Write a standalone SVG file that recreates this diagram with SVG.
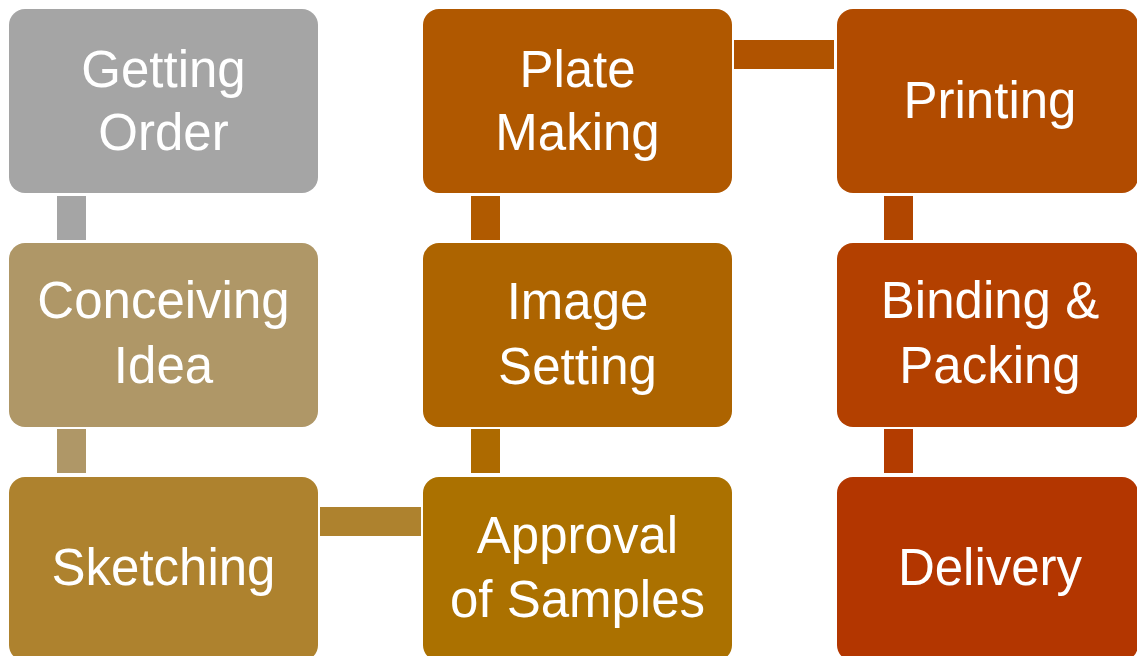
<svg xmlns="http://www.w3.org/2000/svg" width="1137" height="656" viewBox="0 0 1137 656">
<style>
.box{stroke:none}
.t{font-family:"Liberation Sans",Arial,sans-serif;font-size:51px;fill:#ffffff;text-anchor:middle}
</style>
<rect width="1137" height="656" fill="#ffffff"/>
<g id="connectors">
<rect x="57" y="196" width="29" height="44" fill="#A5A5A5"/>
<rect x="57" y="429" width="29" height="44" fill="#AF9767"/>
<rect x="320" y="507" width="101" height="29" fill="#AE822E"/>
<rect x="471" y="429" width="29" height="44" fill="#AD6A00"/>
<rect x="471" y="196" width="29" height="44" fill="#B05A00"/>
<rect x="734" y="40" width="100" height="29" fill="#B05300"/>
<rect x="884" y="196" width="29" height="44" fill="#B14600"/>
<rect x="884" y="429" width="29" height="44" fill="#B33C00"/>
</g>
<g id="n1"><rect class="box" x="9" y="9" width="309" height="184" rx="16" fill="#A5A5A5"/>
<text class="t" x="163.5" y="87">Getting</text><text class="t" x="163.5" y="150">Order</text></g>
<g id="n2"><rect class="box" x="9" y="243" width="309" height="184" rx="16" fill="#AF9767"/>
<text class="t" x="163.5" y="318">Conceiving</text><text class="t" x="163.5" y="383">Idea</text></g>
<g id="n3"><rect class="box" x="9" y="477" width="309" height="184" rx="16" fill="#AE822E"/>
<text class="t" x="163.5" y="585">Sketching</text></g>
<g id="n4"><rect class="box" x="423" y="477" width="309" height="184" rx="16" fill="#AB7100"/>
<text class="t" x="577.5" y="553">Approval</text><text class="t" x="577.5" y="617">of Samples</text></g>
<g id="n5"><rect class="box" x="423" y="243" width="309" height="184" rx="16" fill="#AD6400"/>
<text class="t" x="577.5" y="319">Image</text><text class="t" x="577.5" y="384">Setting</text></g>
<g id="n6"><rect class="box" x="423" y="9" width="309" height="184" rx="16" fill="#B05800"/>
<text class="t" x="577.5" y="87">Plate</text><text class="t" x="577.5" y="150">Making</text></g>
<g id="n7"><rect class="box" x="837" y="9" width="301" height="184" rx="16" fill="#B14B00"/>
<text class="t" x="990" y="118">Printing</text></g>
<g id="n8"><rect class="box" x="837" y="243" width="301" height="184" rx="16" fill="#B34000"/>
<text class="t" x="990" y="318">Binding &amp;</text><text class="t" x="990" y="383">Packing</text></g>
<g id="n9"><rect class="box" x="837" y="477" width="301" height="184" rx="16" fill="#B33600"/>
<text class="t" x="990" y="585">Delivery</text></g>
</svg>
